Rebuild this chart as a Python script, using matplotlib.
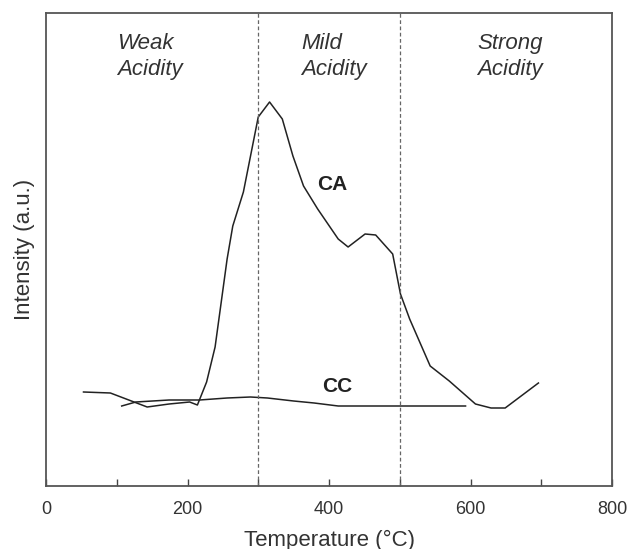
import numpy as np
import matplotlib
matplotlib.use("Agg")
import matplotlib.pyplot as plt
from matplotlib.ticker import MultipleLocator

plt.rcParams['font.family'] = ['Liberation Sans', 'DejaVu Sans']

# CA profile (temperature, intensity a.u.)
ca_temp = [53, 91, 143, 174, 203, 214, 227, 239, 256, 264, 279, 300, 316, 334,
           349, 364, 384, 413, 427, 451, 466, 490, 501, 514, 543, 570, 607,
           629, 649, 696]
ca_int = [94, 93, 79, 82, 84, 81, 104, 139, 227, 260, 294, 369, 384, 367,
          330, 300, 277, 247, 239, 252, 251, 232, 192, 167, 120, 105, 82,
          78, 78, 103]

# CC profile
cc_temp = [107, 127, 174, 217, 256, 289, 313, 350, 379, 413, 456, 493, 593]
cc_int = [80, 84, 86, 86, 88, 89, 88, 85, 83, 80, 80, 80, 80]

zone_bounds = [300, 500]
zone_labels = ["Weak\nAcidity", "Mild\nAcidity", "Strong\nAcidity"]
zone_label_x = [101, 361, 610]

fig = plt.figure(figsize=(6.27, 5.49), dpi=100)
ax = fig.add_axes([46/627, 1 - 486/549, 566/627, 473/549])

ax.plot(ca_temp, ca_int, color='#222222', lw=1.1)
ax.plot(cc_temp, cc_int, color='#222222', lw=1.1)

for b in zone_bounds:
    ax.axvline(b, color='#666666', lw=0.9, ls=(0, (3, 2)))

for x, lab in zip(zone_label_x, zone_labels):
    ax.text(x, 453, lab, fontsize=16, style='italic', color='#333333',
            ha='left', va='top', linespacing=1.3)

ax.text(404, 301, "CA", fontsize=15, fontweight='bold', color='#222222',
        ha='center', va='center')
ax.text(411, 99, "CC", fontsize=15, fontweight='bold', color='#222222',
        ha='center', va='center')

ax.set_xlim(0, 800)
ax.set_ylim(0, 473)
ax.xaxis.set_major_locator(MultipleLocator(200))
ax.xaxis.set_minor_locator(MultipleLocator(100))
ax.tick_params(axis='x', which='both', direction='in', length=5, width=1,
               color='#444444', labelsize=13, labelcolor='#333333', pad=11)
ax.set_yticks([])

for s in ax.spines.values():
    s.set_color('#555555')
    s.set_linewidth(1.3)

ax.set_xlabel("Temperature (°C)", fontsize=16, color='#333333', labelpad=8)
ax.set_ylabel("Intensity (a.u.)", fontsize=16, color='#333333', labelpad=8)

fig.savefig("out.png", dpi=100)
